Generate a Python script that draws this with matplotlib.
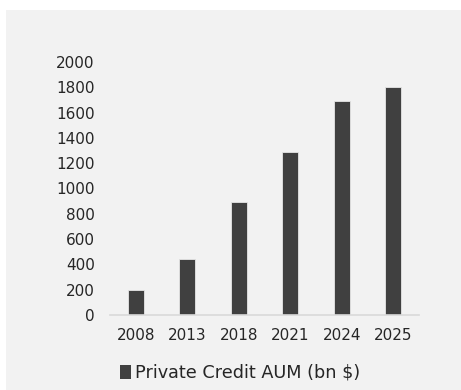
import matplotlib
matplotlib.use("Agg")
import matplotlib.pyplot as plt
from matplotlib.patches import Rectangle

years = ["2008", "2013", "2018", "2021", "2024", "2025"]
aum_bn = [200, 445, 890, 1290, 1690, 1800]
series_name = "Private Credit AUM (bn $)"
y_ticks = list(range(0, 2001, 200))

plt.rcParams["font.family"] = ["DejaVu Sans"]
text_color = "#262626"
bar_color = "#404040"
panel_color = "#f2f2f2"

fig = plt.figure(figsize=(4.61, 3.9), dpi=100)
fig.patch.set_facecolor("white")
fig.patches.append(Rectangle((6 / 461, 0), 1, 1 - 10 / 390, transform=fig.transFigure,
                             facecolor=panel_color, edgecolor="none", zorder=-10))

ax = fig.add_axes([110 / 461, 1 - 315 / 390, (419 - 110) / 461, (315 - 62) / 390])
ax.set_facecolor("none")
x = list(range(len(years)))
ax.bar(x, aum_bn, width=0.31, color=bar_color, edgecolor="#e6e6e6", linewidth=0.6,
       label=series_name, zorder=2)
ax.set_xlim(-0.5, len(years) - 0.5)
ax.set_ylim(0, 2000)
ax.set_yticks(y_ticks)
ax.set_xticks(x)
ax.set_xticklabels(years)
for s in ["top", "right", "left"]:
    ax.spines[s].set_visible(False)
ax.spines["bottom"].set_color("#d9d9d9")
ax.spines["bottom"].set_linewidth(1.2)
ax.tick_params(axis="both", length=0, labelsize=11, colors=text_color)
ax.tick_params(axis="y", pad=11)
ax.tick_params(axis="x", pad=9.5)

leg = ax.legend(loc="center", bbox_to_anchor=(240 / 461, 1 - 373 / 390),
                bbox_transform=fig.transFigure, frameon=False, fontsize=12.7,
                handlelength=0.62, handleheight=0.9, handletextpad=0.2,
                labelcolor=text_color)
for h in leg.legend_handles:
    h.set_edgecolor("none")

fig.savefig("out.png", dpi=100, facecolor=fig.get_facecolor())
